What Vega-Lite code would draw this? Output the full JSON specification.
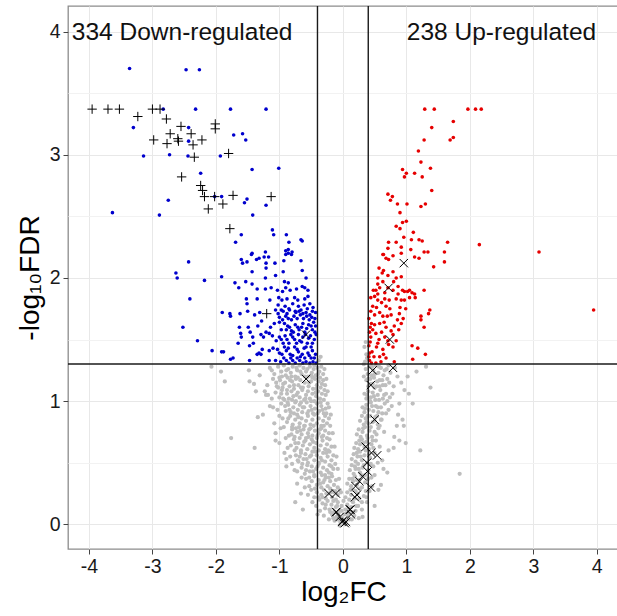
{
"$schema": "https://vega.github.io/schema/vega-lite/v6.json",
"width": 551,
"height": 543,
"padding": {"left": 68, "top": 6, "right": 0, "bottom": 67},
"autosize": {"type": "none"},
"config": {
"font": "Liberation Sans",
"view": {"stroke": "#8c8c8c", "strokeWidth": 1.3},
"axis": {"grid": true, "domain": false, "tickColor": "#444444", "tickSize": 5, "tickWidth": 1, "labelFontSize": 19.5, "labelColor": "#1a1a1a", "titleFontSize": 28, "titleFontWeight": "normal", "titleColor": "#000000", "labelPadding": 3, "labelOverlap": false, "labelFlush": false}
},
"datasets": {
"grey": [
{"x":-2.07,"y":1.28},{"x":-1.92,"y":1.24},{"x":-1.48,"y":1.25},{"x":-1.31,"y":1.21},{"x":-1.15,"y":1.27},{"x":-1.08,"y":1.22},{"x":-1.02,"y":1.28},{"x":-0.97,"y":1.24},{"x":-0.93,"y":1.29},{"x":-0.9,"y":1.21},{"x":-0.86,"y":1.26},{"x":-0.82,"y":1.23},{"x":-0.79,"y":1.28},{"x":-0.75,"y":1.2},{"x":-0.72,"y":1.25},{"x":-0.68,"y":1.29},{"x":-0.65,"y":1.22},{"x":-0.62,"y":1.27},{"x":-0.58,"y":1.24},{"x":-0.55,"y":1.2},{"x":-0.52,"y":1.28},{"x":-0.49,"y":1.23},{"x":-0.46,"y":1.26},{"x":-0.43,"y":1.21},{"x":-0.4,"y":1.27},{"x":-0.37,"y":1.24},{"x":-0.34,"y":1.28},{"x":-0.31,"y":1.22},{"x":0.36,"y":1.26},{"x":0.39,"y":1.22},{"x":0.42,"y":1.28},{"x":0.45,"y":1.21},{"x":0.48,"y":1.25},{"x":0.52,"y":1.29},{"x":0.56,"y":1.23},{"x":0.6,"y":1.27},{"x":0.64,"y":1.21},{"x":0.69,"y":1.26},{"x":0.75,"y":1.23},{"x":1.16,"y":1.24},{"x":1.31,"y":1.28},
{"x":0.35,"y":1.32},{"x":0.37,"y":1.38},{"x":0.34,"y":1.44},{"x":0.38,"y":1.35},{"x":0.36,"y":1.48},{"x":-0.38,"y":1.33},{"x":-0.35,"y":1.36},{"x":0.33,"y":1.3},
{"x":-1.86,"y":1.16},{"x":-1.47,"y":1.16},{"x":-1.4,"y":1.14},{"x":-1.19,"y":1.13},{"x":-1.1,"y":1.18},{"x":-1.04,"y":1.12},{"x":-0.99,"y":1.17},{"x":-0.95,"y":1.11},{"x":-0.91,"y":1.15},{"x":-0.87,"y":1.19},{"x":-0.84,"y":1.12},{"x":-0.8,"y":1.16},{"x":-0.77,"y":1.1},{"x":-0.74,"y":1.18},{"x":-0.7,"y":1.13},{"x":-0.67,"y":1.17},{"x":-0.63,"y":1.11},{"x":-0.6,"y":1.15},{"x":-0.57,"y":1.19},{"x":-0.54,"y":1.12},{"x":-0.5,"y":1.16},{"x":-0.47,"y":1.1},{"x":-0.44,"y":1.18},{"x":-0.41,"y":1.13},{"x":-0.38,"y":1.16},{"x":-0.35,"y":1.11},{"x":-0.31,"y":1.17},{"x":-0.28,"y":1.13},{"x":0.37,"y":1.17},{"x":0.4,"y":1.12},{"x":0.43,"y":1.18},{"x":0.47,"y":1.14},{"x":0.5,"y":1.11},{"x":0.54,"y":1.16},{"x":0.58,"y":1.12},{"x":0.62,"y":1.17},{"x":0.67,"y":1.13},{"x":0.73,"y":1.15},{"x":0.8,"y":1.12},{"x":1.38,"y":1.11},
{"x":-1.37,"y":1.08},{"x":-1.23,"y":1.08},{"x":-1.21,"y":1.05},{"x":-1.12,"y":1.02},{"x":-1.06,"y":1.07},{"x":-1.0,"y":1.03},{"x":-0.96,"y":1.09},{"x":-0.92,"y":1.01},{"x":-0.88,"y":1.06},{"x":-0.85,"y":1.02},{"x":-0.81,"y":1.08},{"x":-0.78,"y":1.04},{"x":-0.74,"y":1.0},{"x":-0.71,"y":1.07},{"x":-0.68,"y":1.03},{"x":-0.64,"y":1.09},{"x":-0.61,"y":1.01},{"x":-0.58,"y":1.05},{"x":-0.55,"y":1.08},{"x":-0.52,"y":1.02},{"x":-0.48,"y":1.06},{"x":-0.45,"y":1.0},{"x":-0.42,"y":1.04},{"x":-0.39,"y":1.08},{"x":-0.36,"y":1.02},{"x":-0.33,"y":1.06},{"x":-0.3,"y":1.01},{"x":-0.27,"y":1.05},{"x":0.34,"y":1.06},{"x":0.37,"y":1.02},{"x":0.4,"y":1.08},{"x":0.44,"y":1.03},{"x":0.47,"y":1.07},{"x":0.51,"y":1.01},{"x":0.55,"y":1.05},{"x":0.59,"y":1.09},{"x":0.63,"y":1.02},{"x":0.68,"y":1.06},{"x":0.74,"y":1.03},{"x":0.97,"y":1.09},{"x":1.04,"y":1.06},
{"x":-1.15,"y":0.96},{"x":-1.03,"y":0.93},{"x":-0.97,"y":0.98},{"x":-0.9,"y":0.92},{"x":-0.86,"y":0.97},{"x":-0.82,"y":0.91},{"x":-0.78,"y":0.95},{"x":-0.75,"y":0.99},{"x":-0.71,"y":0.93},{"x":-0.68,"y":0.97},{"x":-0.64,"y":0.91},{"x":-0.61,"y":0.95},{"x":-0.57,"y":0.99},{"x":-0.54,"y":0.92},{"x":-0.51,"y":0.96},{"x":-0.47,"y":0.9},{"x":-0.44,"y":0.94},{"x":-0.41,"y":0.98},{"x":-0.37,"y":0.92},{"x":-0.34,"y":0.96},{"x":-0.3,"y":0.9},{"x":-0.27,"y":0.94},{"x":-0.24,"y":0.98},{"x":0.31,"y":0.95},{"x":0.34,"y":0.91},{"x":0.37,"y":0.97},{"x":0.41,"y":0.93},{"x":0.44,"y":0.99},{"x":0.48,"y":0.92},{"x":0.52,"y":0.96},{"x":0.56,"y":0.91},{"x":0.6,"y":0.95},{"x":0.66,"y":0.98},{"x":0.72,"y":0.93},{"x":0.89,"y":0.98},
{"x":-1.34,"y":0.87},{"x":-1.26,"y":0.89},{"x":-1.08,"y":0.82},{"x":-0.95,"y":0.86},{"x":-0.88,"y":0.83},{"x":-0.83,"y":0.88},{"x":-0.79,"y":0.81},{"x":-0.75,"y":0.85},{"x":-0.72,"y":0.89},{"x":-0.68,"y":0.82},{"x":-0.65,"y":0.86},{"x":-0.61,"y":0.8},{"x":-0.58,"y":0.84},{"x":-0.55,"y":0.88},{"x":-0.51,"y":0.81},{"x":-0.48,"y":0.85},{"x":-0.45,"y":0.89},{"x":-0.41,"y":0.82},{"x":-0.38,"y":0.86},{"x":-0.34,"y":0.8},{"x":-0.31,"y":0.84},{"x":-0.28,"y":0.88},{"x":-0.25,"y":0.82},{"x":-0.22,"y":0.86},{"x":0.27,"y":0.84},{"x":0.3,"y":0.88},{"x":0.33,"y":0.81},{"x":0.36,"y":0.86},{"x":0.4,"y":0.82},{"x":0.43,"y":0.88},{"x":0.47,"y":0.83},{"x":0.51,"y":0.87},{"x":0.55,"y":0.81},{"x":0.6,"y":0.85},{"x":0.87,"y":0.89},{"x":0.94,"y":0.85},{"x":0.96,"y":0.8},
{"x":-1.76,"y":0.7},{"x":-1.06,"y":0.74},{"x":-0.98,"y":0.78},{"x":-0.85,"y":0.72},{"x":-0.8,"y":0.77},{"x":-0.76,"y":0.71},{"x":-0.72,"y":0.75},{"x":-0.69,"y":0.79},{"x":-0.65,"y":0.73},{"x":-0.62,"y":0.77},{"x":-0.58,"y":0.7},{"x":-0.55,"y":0.74},{"x":-0.51,"y":0.78},{"x":-0.48,"y":0.72},{"x":-0.44,"y":0.76},{"x":-0.41,"y":0.7},{"x":-0.38,"y":0.74},{"x":-0.34,"y":0.78},{"x":-0.31,"y":0.72},{"x":-0.28,"y":0.76},{"x":-0.25,"y":0.7},{"x":-0.22,"y":0.74},{"x":0.22,"y":0.73},{"x":0.25,"y":0.77},{"x":0.28,"y":0.71},{"x":0.31,"y":0.75},{"x":0.35,"y":0.79},{"x":0.38,"y":0.72},{"x":0.42,"y":0.76},{"x":0.46,"y":0.71},{"x":0.5,"y":0.75},{"x":0.56,"y":0.78},{"x":0.81,"y":0.71},
{"x":-1.39,"y":0.62},{"x":-1.06,"y":0.68},{"x":-1.0,"y":0.66},{"x":-0.82,"y":0.64},{"x":-0.77,"y":0.69},{"x":-0.73,"y":0.62},{"x":-0.7,"y":0.66},{"x":-0.66,"y":0.6},{"x":-0.63,"y":0.64},{"x":-0.59,"y":0.68},{"x":-0.56,"y":0.61},{"x":-0.52,"y":0.65},{"x":-0.49,"y":0.69},{"x":-0.45,"y":0.62},{"x":-0.42,"y":0.66},{"x":-0.38,"y":0.6},{"x":-0.35,"y":0.64},{"x":-0.32,"y":0.68},{"x":-0.28,"y":0.61},{"x":-0.25,"y":0.65},{"x":-0.21,"y":0.69},{"x":-0.18,"y":0.63},{"x":0.18,"y":0.62},{"x":0.21,"y":0.66},{"x":0.24,"y":0.61},{"x":0.27,"y":0.65},{"x":0.3,"y":0.69},{"x":0.34,"y":0.63},{"x":0.37,"y":0.67},{"x":0.41,"y":0.61},{"x":0.45,"y":0.65},{"x":0.52,"y":0.68},{"x":0.89,"y":0.68},{"x":0.99,"y":0.66},{"x":0.8,"y":0.62},
{"x":-0.92,"y":0.58},{"x":-0.89,"y":0.53},{"x":-0.74,"y":0.56},{"x":-0.7,"y":0.51},{"x":-0.66,"y":0.58},{"x":-0.62,"y":0.53},{"x":-0.59,"y":0.57},{"x":-0.55,"y":0.5},{"x":-0.52,"y":0.55},{"x":-0.48,"y":0.59},{"x":-0.45,"y":0.52},{"x":-0.41,"y":0.56},{"x":-0.38,"y":0.5},{"x":-0.35,"y":0.54},{"x":-0.31,"y":0.58},{"x":-0.28,"y":0.51},{"x":-0.24,"y":0.55},{"x":-0.21,"y":0.59},{"x":-0.18,"y":0.52},{"x":-0.15,"y":0.56},{"x":0.14,"y":0.53},{"x":0.17,"y":0.57},{"x":0.2,"y":0.51},{"x":0.23,"y":0.55},{"x":0.27,"y":0.59},{"x":0.3,"y":0.52},{"x":0.34,"y":0.56},{"x":0.38,"y":0.5},{"x":0.43,"y":0.54},{"x":0.5,"y":0.58},{"x":0.62,"y":0.52},
{"x":-0.89,"y":0.47},{"x":-0.76,"y":0.44},{"x":-0.65,"y":0.46},{"x":-0.6,"y":0.41},{"x":-0.56,"y":0.48},{"x":-0.52,"y":0.43},{"x":-0.49,"y":0.47},{"x":-0.45,"y":0.4},{"x":-0.42,"y":0.45},{"x":-0.38,"y":0.49},{"x":-0.35,"y":0.42},{"x":-0.31,"y":0.46},{"x":-0.28,"y":0.4},{"x":-0.25,"y":0.44},{"x":-0.21,"y":0.48},{"x":-0.18,"y":0.41},{"x":-0.15,"y":0.45},{"x":-0.12,"y":0.49},{"x":0.11,"y":0.44},{"x":0.14,"y":0.48},{"x":0.17,"y":0.41},{"x":0.2,"y":0.45},{"x":0.24,"y":0.49},{"x":0.27,"y":0.42},{"x":0.31,"y":0.46},{"x":0.35,"y":0.4},{"x":0.4,"y":0.44},{"x":0.48,"y":0.47},{"x":1.84,"y":0.41},{"x":0.7,"y":0.42},
{"x":-0.72,"y":0.33},{"x":-0.58,"y":0.37},{"x":-0.53,"y":0.31},{"x":-0.49,"y":0.35},{"x":-0.45,"y":0.39},{"x":-0.41,"y":0.32},{"x":-0.38,"y":0.36},{"x":-0.34,"y":0.3},{"x":-0.31,"y":0.34},{"x":-0.27,"y":0.38},{"x":-0.24,"y":0.31},{"x":-0.2,"y":0.35},{"x":-0.17,"y":0.39},{"x":-0.14,"y":0.32},{"x":-0.11,"y":0.36},{"x":-0.08,"y":0.3},{"x":0.07,"y":0.33},{"x":0.1,"y":0.37},{"x":0.13,"y":0.31},{"x":0.16,"y":0.35},{"x":0.19,"y":0.39},{"x":0.22,"y":0.32},{"x":0.26,"y":0.36},{"x":0.3,"y":0.3},{"x":0.35,"y":0.34},{"x":0.45,"y":0.38},{"x":0.6,"y":0.32},
{"x":-0.66,"y":0.25},{"x":-0.5,"y":0.28},{"x":-0.45,"y":0.22},{"x":-0.41,"y":0.26},{"x":-0.37,"y":0.2},{"x":-0.34,"y":0.24},{"x":-0.3,"y":0.28},{"x":-0.27,"y":0.21},{"x":-0.23,"y":0.25},{"x":-0.2,"y":0.29},{"x":-0.17,"y":0.22},{"x":-0.14,"y":0.26},{"x":-0.11,"y":0.2},{"x":-0.08,"y":0.24},{"x":-0.05,"y":0.28},{"x":0.04,"y":0.22},{"x":0.07,"y":0.26},{"x":0.1,"y":0.2},{"x":0.13,"y":0.24},{"x":0.16,"y":0.28},{"x":0.19,"y":0.21},{"x":0.23,"y":0.25},{"x":0.27,"y":0.29},{"x":0.33,"y":0.23},{"x":0.42,"y":0.27},
{"x":-0.75,"y":0.18},{"x":-0.63,"y":0.12},{"x":-0.42,"y":0.15},{"x":-0.36,"y":0.11},{"x":-0.32,"y":0.17},{"x":-0.28,"y":0.13},{"x":-0.24,"y":0.19},{"x":-0.21,"y":0.12},{"x":-0.18,"y":0.16},{"x":-0.14,"y":0.1},{"x":-0.11,"y":0.14},{"x":-0.08,"y":0.18},{"x":-0.05,"y":0.11},{"x":-0.02,"y":0.15},{"x":0.01,"y":0.19},{"x":0.04,"y":0.12},{"x":0.07,"y":0.16},{"x":0.1,"y":0.1},{"x":0.13,"y":0.14},{"x":0.16,"y":0.18},{"x":0.2,"y":0.11},{"x":0.24,"y":0.15},{"x":0.3,"y":0.12},{"x":0.5,"y":0.15},{"x":0.38,"y":0.18},
{"x":-0.3,"y":0.07},{"x":-0.22,"y":0.04},{"x":-0.17,"y":0.08},{"x":-0.13,"y":0.03},{"x":-0.1,"y":0.06},{"x":-0.07,"y":0.09},{"x":-0.04,"y":0.02},{"x":-0.01,"y":0.05},{"x":0.02,"y":0.08},{"x":0.05,"y":0.03},{"x":0.08,"y":0.06},{"x":0.11,"y":0.09},{"x":0.14,"y":0.04},{"x":0.18,"y":0.07},{"x":0.25,"y":0.05},{"x":-0.05,"y":-0.01},{"x":0.03,"y":0.0},{"x":0.0,"y":0.02},
{"x":-1.0,"y":1.19},{"x":-0.94,"y":1.14},{"x":-0.88,"y":1.09},{"x":-0.83,"y":1.17},{"x":-0.77,"y":1.13},{"x":-0.71,"y":1.19},{"x":-0.66,"y":1.11},{"x":-0.6,"y":1.2},{"x":-0.53,"y":1.15},{"x":-0.48,"y":1.19},{"x":-0.42,"y":1.1},{"x":-0.36,"y":1.19},{"x":-0.29,"y":1.26},{"x":-0.26,"y":1.18},{"x":-0.94,"y":1.02},{"x":-0.87,"y":0.99},{"x":-0.8,"y":1.01},{"x":-0.73,"y":1.05},{"x":-0.66,"y":0.99},{"x":-0.59,"y":1.02},{"x":-0.5,"y":1.0},{"x":-0.43,"y":1.07},{"x":-0.35,"y":0.99},{"x":-0.29,"y":1.09},{"x":-0.84,"y":0.93},{"x":-0.77,"y":0.9},{"x":-0.7,"y":0.87},{"x":-0.63,"y":0.95},{"x":-0.56,"y":0.9},{"x":-0.49,"y":0.93},{"x":-0.4,"y":0.9},{"x":-0.32,"y":0.93},{"x":-0.26,"y":0.9},{"x":-0.8,"y":0.79},{"x":-0.74,"y":0.78},{"x":-0.67,"y":0.76},{"x":-0.6,"y":0.8},{"x":-0.53,"y":0.77},{"x":-0.46,"y":0.8},{"x":-0.36,"y":0.77},{"x":-0.3,"y":0.8},{"x":-0.2,"y":0.8},{"x":-0.75,"y":0.66},{"x":-0.68,"y":0.7},{"x":-0.61,"y":0.67},{"x":-0.54,"y":0.71},{"x":-0.47,"y":0.67},{"x":-0.4,"y":0.72},{"x":-0.33,"y":0.71},{"x":-0.23,"y":0.6},{"x":-0.68,"y":0.55},{"x":-0.57,"y":0.53},{"x":-0.5,"y":0.56},{"x":-0.43,"y":0.59},{"x":-0.33,"y":0.52},{"x":-0.26,"y":0.58},{"x":-0.18,"y":0.47},{"x":-0.47,"y":0.43},{"x":-0.4,"y":0.47},{"x":-0.33,"y":0.4},{"x":-0.22,"y":0.42},{"x":-0.29,"y":0.36},{"x":-0.36,"y":0.33},{"x":-0.22,"y":0.38},{"x":-0.12,"y":0.27},{"x":-0.19,"y":0.26},{"x":-0.26,"y":0.25},{"x":-0.32,"y":0.22},{"x":-0.15,"y":0.19},{"x":-0.09,"y":0.15},{"x":0.06,"y":0.09},{"x":0.09,"y":0.13},{"x":-0.02,"y":0.11},
{"x":0.4,"y":1.18},{"x":0.44,"y":1.14},{"x":0.49,"y":1.19},{"x":0.53,"y":1.12},{"x":0.58,"y":1.17},{"x":0.63,"y":1.13},{"x":0.7,"y":1.18},{"x":0.38,"y":1.05},{"x":0.43,"y":1.0},{"x":0.49,"y":1.04},{"x":0.57,"y":1.01},{"x":0.65,"y":1.05},{"x":0.35,"y":0.94},{"x":0.39,"y":0.88},{"x":0.46,"y":0.96},{"x":0.54,"y":0.88},{"x":0.62,"y":0.9},{"x":0.32,"y":0.78},{"x":0.37,"y":0.83},{"x":0.44,"y":0.79},{"x":0.5,"y":0.84},{"x":0.58,"y":0.8},{"x":0.26,"y":0.68},{"x":0.32,"y":0.66},{"x":0.39,"y":0.7},{"x":0.47,"y":0.68},{"x":0.22,"y":0.58},{"x":0.28,"y":0.55},{"x":0.36,"y":0.6},{"x":0.41,"y":0.57},{"x":0.19,"y":0.47},{"x":0.25,"y":0.45},{"x":0.33,"y":0.48},{"x":0.15,"y":0.37},{"x":0.22,"y":0.36},{"x":0.29,"y":0.4},{"x":0.12,"y":0.28},{"x":0.2,"y":0.27},{"x":0.26,"y":0.21},
{"x":-1.12,"y":1.25},{"x":-1.05,"y":1.15},{"x":-1.18,"y":1.05},{"x":-1.1,"y":0.95},{"x":-1.0,"y":0.88},{"x":-0.93,"y":0.79},{"x":-0.9,"y":0.7},{"x":-0.87,"y":0.62},{"x":-0.83,"y":0.55},{"x":-0.8,"y":0.49},{"x":-0.72,"y":0.43},{"x":-0.65,"y":0.38},{"x":-0.6,"y":0.3},{"x":-0.55,"y":0.24},{"x":-0.48,"y":0.18},{"x":-0.4,"y":0.08},{"x":-0.96,"y":1.2},{"x":-0.89,"y":1.25},{"x":-0.81,"y":1.2},{"x":-0.73,"y":1.27},{"x":-0.67,"y":1.24},{"x":-0.56,"y":1.26},{"x":-0.5,"y":1.21},{"x":-0.45,"y":1.29},{"x":-0.39,"y":1.22},{"x":-0.33,"y":1.14},{"x":-0.24,"y":1.08},{"x":-0.22,"y":0.95},{"x":-0.19,"y":0.89},{"x":-0.16,"y":0.74},{"x":-0.13,"y":0.63},{"x":-0.1,"y":0.55},{"x":-0.08,"y":0.45},{"x":-0.06,"y":0.37},{"x":-0.03,"y":0.26},{"x":-1.02,"y":1.11},{"x":-0.97,"y":1.06},{"x":-0.91,"y":0.96},{"x":-0.86,"y":0.86},{"x":-0.81,"y":0.73},{"x":-0.76,"y":0.6},{"x":-0.71,"y":0.52},{"x":-0.64,"y":0.49},{"x":-0.58,"y":0.44},{"x":-0.53,"y":0.38},{"x":-0.44,"y":0.29},{"x":-0.39,"y":0.22},{"x":-0.27,"y":0.16},{"x":-0.2,"y":0.1},{"x":-0.15,"y":0.05},{"x":-0.08,"y":0.04},
{"x":0.33,"y":1.2},{"x":0.46,"y":1.28},{"x":0.5,"y":1.22},{"x":0.57,"y":1.28},{"x":0.66,"y":1.25},{"x":0.72,"y":1.29},{"x":0.82,"y":1.27},{"x":0.86,"y":1.2},{"x":0.78,"y":1.06},{"x":0.7,"y":1.0},{"x":0.61,"y":0.85},{"x":0.55,"y":0.95},{"x":0.53,"y":0.73},{"x":0.48,"y":0.62},{"x":0.44,"y":0.49},{"x":0.4,"y":0.37},{"x":0.36,"y":0.27},{"x":0.3,"y":0.18},{"x":0.21,"y":0.15},{"x":0.16,"y":0.1},{"x":0.1,"y":0.04},{"x":0.68,"y":0.9},{"x":0.65,"y":0.75},{"x":0.58,"y":0.63},{"x":0.55,"y":0.5},{"x":0.5,"y":0.4},{"x":0.46,"y":0.31},{"x":0.37,"y":0.22},{"x":0.31,"y":0.06},{"x":0.92,"y":1.15},{"x":1.02,"y":1.2},{"x":0.77,"y":0.96},{"x":0.85,"y":0.8},{"x":0.72,"y":0.6},{"x":0.64,"y":0.45},{"x":0.56,"y":0.28},{"x":1.1,"y":0.98},{"x":1.22,"y":0.6}
],
"down": [
{"x":-3.36,"y":3.7},{"x":-2.47,"y":3.69},{"x":-2.26,"y":3.69},{"x":-2.83,"y":3.37},{"x":-2.32,"y":3.37},{"x":-1.77,"y":3.37},{"x":-1.21,"y":3.37},{"x":-3.3,"y":3.22},{"x":-2.43,"y":3.22},{"x":-1.72,"y":3.16},{"x":-1.58,"y":3.17},{"x":-1.53,"y":3.12},{"x":-3.14,"y":2.99},{"x":-2.73,"y":3.0},{"x":-2.44,"y":2.99},{"x":-1.93,"y":2.99},{"x":-2.43,"y":3.11},{"x":-1.43,"y":2.88},{"x":-1.01,"y":2.89},{"x":-2.24,"y":2.85},{"x":-2.75,"y":2.63},{"x":-3.63,"y":2.53},{"x":-2.89,"y":2.51},{"x":-2.02,"y":2.66},{"x":-1.91,"y":2.66},{"x":-1.51,"y":2.64},{"x":-1.55,"y":2.61},{"x":-1.21,"y":2.59},{"x":-1.42,"y":2.51},{"x":-1.11,"y":2.39},{"x":-1.09,"y":2.35},{"x":-0.89,"y":2.35},{"x":-0.85,"y":2.29},{"x":-1.6,"y":2.35},{"x":-1.69,"y":2.29},{"x":-0.66,"y":2.31},{"x":-0.64,"y":2.3},{"x":-0.9,"y":2.19},{"x":-0.86,"y":2.2},{"x":-0.81,"y":2.19},
{"x":-2.43,"y":2.13},{"x":-2.63,"y":2.04},{"x":-2.61,"y":2.0},{"x":-2.18,"y":1.98},{"x":-1.91,"y":2.01},{"x":-2.41,"y":1.83},{"x":-2.52,"y":1.6},{"x":-2.29,"y":1.49},{"x":-2.06,"y":1.41},{"x":-1.91,"y":1.4},{"x":-1.88,"y":1.4},{"x":-1.77,"y":1.34},
{"x":-1.6,"y":2.15},{"x":-1.58,"y":2.12},{"x":-1.51,"y":2.13},{"x":-1.44,"y":2.19},{"x":-1.43,"y":2.2},{"x":-1.36,"y":2.15},{"x":-1.32,"y":2.16},{"x":-1.24,"y":2.17},{"x":-1.22,"y":2.21},{"x":-1.17,"y":2.17},{"x":-1.21,"y":2.12},{"x":-1.07,"y":2.12},{"x":-0.93,"y":2.14},{"x":-0.9,"y":2.22},{"x":-0.86,"y":2.23},{"x":-0.8,"y":2.21},{"x":-0.66,"y":2.14},
{"x":-1.43,"y":2.05},{"x":-1.21,"y":2.08},{"x":-1.22,"y":2.0},{"x":-1.06,"y":2.02},{"x":-0.94,"y":2.05},{"x":-0.92,"y":1.97},{"x":-0.86,"y":1.96},{"x":-0.64,"y":2.06},{"x":-0.58,"y":2.0},
{"x":-1.7,"y":1.96},{"x":-1.64,"y":1.92},{"x":-1.53,"y":1.97},{"x":-1.43,"y":1.95},{"x":-1.35,"y":1.91},
{"x":-1.22,"y":1.91},{"x":-1.13,"y":1.92},{"x":-1.03,"y":1.9},{"x":-0.95,"y":1.89},{"x":-0.9,"y":1.92},{"x":-0.83,"y":1.9},{"x":-0.73,"y":1.91},{"x":-0.64,"y":1.93},{"x":-0.6,"y":1.92},{"x":-0.55,"y":1.9},
{"x":-1.52,"y":1.83},{"x":-1.51,"y":1.79},{"x":-1.35,"y":1.83},{"x":-1.15,"y":1.82},{"x":-1.01,"y":1.84},{"x":-0.96,"y":1.82},{"x":-0.88,"y":1.83},{"x":-0.76,"y":1.84},{"x":-0.71,"y":1.82},{"x":-0.6,"y":1.83},{"x":-0.55,"y":1.85},
{"x":-1.62,"y":1.71},{"x":-1.5,"y":1.73},{"x":-1.39,"y":1.7},{"x":-1.31,"y":1.72},{"x":-1.06,"y":1.74},{"x":-1.02,"y":1.71},{"x":-0.94,"y":1.73},{"x":-0.88,"y":1.71},{"x":-0.84,"y":1.74},{"x":-0.74,"y":1.72},{"x":-0.69,"y":1.73},{"x":-0.63,"y":1.71},{"x":-0.58,"y":1.72},{"x":-0.52,"y":1.7},{"x":-0.48,"y":1.73},{"x":-1.9,"y":1.72},{"x":-1.78,"y":1.71},{"x":-1.77,"y":1.69},
{"x":-1.63,"y":1.6},{"x":-1.49,"y":1.6},{"x":-1.46,"y":1.56},{"x":-1.34,"y":1.61},{"x":-1.28,"y":1.65},{"x":-1.21,"y":1.56},{"x":-1.14,"y":1.6},{"x":-1.08,"y":1.63},{"x":-1.0,"y":1.64},{"x":-0.92,"y":1.63},{"x":-0.89,"y":1.58},{"x":-0.84,"y":1.6},{"x":-0.78,"y":1.56},{"x":-0.71,"y":1.6},{"x":-0.63,"y":1.63},{"x":-0.57,"y":1.59},{"x":-0.5,"y":1.61},{"x":-0.46,"y":1.64},{"x":-0.44,"y":1.56},
{"x":-1.61,"y":1.55},{"x":-1.6,"y":1.52},{"x":-1.42,"y":1.52},{"x":-1.29,"y":1.54},{"x":-1.25,"y":1.52},{"x":-1.16,"y":1.55},{"x":-1.11,"y":1.53},{"x":-1.0,"y":1.52},{"x":-0.94,"y":1.47},{"x":-0.88,"y":1.5},{"x":-0.82,"y":1.54},{"x":-0.76,"y":1.5},{"x":-0.68,"y":1.49},{"x":-0.63,"y":1.52},{"x":-0.54,"y":1.51},{"x":-0.48,"y":1.47},
{"x":-1.65,"y":1.47},{"x":-1.47,"y":1.45},{"x":-1.41,"y":1.47},{"x":-1.32,"y":1.39},{"x":-1.27,"y":1.42},{"x":-1.16,"y":1.41},{"x":-1.1,"y":1.43},{"x":-1.0,"y":1.39},{"x":-0.92,"y":1.44},{"x":-0.86,"y":1.43},{"x":-0.79,"y":1.37},{"x":-0.72,"y":1.42},{"x":-0.67,"y":1.36},{"x":-0.61,"y":1.43},{"x":-0.55,"y":1.39},{"x":-0.5,"y":1.44},{"x":-0.45,"y":1.35},
{"x":-1.73,"y":1.35},{"x":-1.47,"y":1.33},{"x":-1.35,"y":1.38},{"x":-1.29,"y":1.38},{"x":-1.16,"y":1.33},{"x":-1.06,"y":1.33},{"x":-0.89,"y":1.33},{"x":-0.79,"y":1.33},{"x":-0.68,"y":1.33},{"x":-0.58,"y":1.32},{"x":-0.47,"y":1.32},
{"x":-1.02,"y":1.78},{"x":-0.97,"y":1.74},{"x":-0.91,"y":1.77},{"x":-0.85,"y":1.75},{"x":-0.79,"y":1.79},{"x":-0.75,"y":1.73},{"x":-0.7,"y":1.77},{"x":-0.66,"y":1.74},{"x":-0.61,"y":1.78},{"x":-0.56,"y":1.75},{"x":-0.52,"y":1.79},{"x":-0.47,"y":1.76},{"x":-0.43,"y":1.72},
{"x":-1.0,"y":1.68},{"x":-0.95,"y":1.66},{"x":-0.9,"y":1.69},{"x":-0.86,"y":1.67},{"x":-0.81,"y":1.66},{"x":-0.77,"y":1.69},{"x":-0.72,"y":1.67},{"x":-0.67,"y":1.7},{"x":-0.62,"y":1.67},{"x":-0.57,"y":1.69},{"x":-0.53,"y":1.66},{"x":-0.49,"y":1.68},{"x":-0.44,"y":1.67},
{"x":-0.97,"y":1.58},{"x":-0.87,"y":1.61},{"x":-0.81,"y":1.57},{"x":-0.75,"y":1.62},{"x":-0.69,"y":1.58},{"x":-0.65,"y":1.6},{"x":-0.6,"y":1.56},{"x":-0.54,"y":1.62},{"x":-0.48,"y":1.58},{"x":-0.43,"y":1.61},
{"x":-1.05,"y":1.49},{"x":-0.97,"y":1.5},{"x":-0.91,"y":1.53},{"x":-0.85,"y":1.47},{"x":-0.79,"y":1.52},{"x":-0.73,"y":1.47},{"x":-0.7,"y":1.54},{"x":-0.65,"y":1.48},{"x":-0.59,"y":1.54},{"x":-0.56,"y":1.47},{"x":-0.51,"y":1.53},{"x":-0.45,"y":1.5},{"x":-0.42,"y":1.54},
{"x":-1.03,"y":1.42},{"x":-0.96,"y":1.38},{"x":-0.89,"y":1.41},{"x":-0.83,"y":1.38},{"x":-0.76,"y":1.44},{"x":-0.7,"y":1.4},{"x":-0.64,"y":1.38},{"x":-0.58,"y":1.44},{"x":-0.53,"y":1.37},{"x":-0.48,"y":1.41},{"x":-0.43,"y":1.38},
{"x":-0.98,"y":1.32},{"x":-0.93,"y":1.35},{"x":-0.85,"y":1.31},{"x":-0.82,"y":1.35},{"x":-0.75,"y":1.31},{"x":-0.72,"y":1.35},{"x":-0.63,"y":1.31},{"x":-0.6,"y":1.35},{"x":-0.52,"y":1.31},{"x":-0.5,"y":1.35},{"x":-0.42,"y":1.31}
],
"up": [
{"x":1.29,"y":3.37},{"x":1.44,"y":3.37},{"x":1.97,"y":3.37},{"x":2.09,"y":3.37},{"x":2.18,"y":3.37},{"x":1.4,"y":3.22},{"x":1.74,"y":3.27},{"x":1.28,"y":3.12},{"x":1.69,"y":3.12},{"x":1.74,"y":3.14},{"x":1.19,"y":3.03},{"x":1.23,"y":2.94},{"x":1.38,"y":2.89},{"x":0.94,"y":2.88},{"x":1.0,"y":2.85},{"x":0.97,"y":2.82},{"x":1.13,"y":2.85},{"x":1.25,"y":2.82},{"x":1.4,"y":2.71},{"x":0.71,"y":2.68},{"x":0.78,"y":2.66},{"x":0.75,"y":2.63},{"x":0.86,"y":2.6},{"x":1.01,"y":2.6},{"x":1.23,"y":2.58},{"x":1.3,"y":2.6},{"x":0.9,"y":2.53},{"x":0.94,"y":2.45},{"x":1.0,"y":2.46},{"x":0.84,"y":2.42},{"x":0.9,"y":2.4},{"x":1.11,"y":2.37},{"x":0.96,"y":2.33},{"x":1.2,"y":2.31},{"x":0.72,"y":2.29},{"x":0.84,"y":2.29},{"x":0.71,"y":2.24},{"x":0.92,"y":2.25},{"x":1.08,"y":2.31},{"x":1.25,"y":2.3},{"x":1.65,"y":2.29},{"x":2.15,"y":2.27},{"x":3.09,"y":2.21},{"x":0.64,"y":2.19},{"x":0.72,"y":2.15},{"x":0.79,"y":2.18},{"x":0.92,"y":2.2},{"x":1.07,"y":2.23},{"x":1.13,"y":2.17},{"x":1.2,"y":2.16},{"x":1.28,"y":2.21},{"x":1.34,"y":2.21},{"x":1.43,"y":2.09},{"x":1.6,"y":2.21},{"x":1.6,"y":2.13},{"x":3.95,"y":1.74},
{"x":0.57,"y":2.08},{"x":0.64,"y":2.06},{"x":0.71,"y":2.02},{"x":0.79,"y":2.05},{"x":0.84,"y":2.0},{"x":0.92,"y":2.01},{"x":0.63,"y":1.97},{"x":0.8,"y":1.97},{"x":0.58,"y":1.92},{"x":0.48,"y":1.9},{"x":0.55,"y":1.87},{"x":0.66,"y":1.88},{"x":0.87,"y":1.87},{"x":0.97,"y":1.89},{"x":1.05,"y":1.9},{"x":1.13,"y":1.87},{"x":1.28,"y":1.9},{"x":1.37,"y":1.74},{"x":1.23,"y":1.69},{"x":1.28,"y":1.6},{"x":1.09,"y":1.45},{"x":1.18,"y":1.43},{"x":1.3,"y":1.38},{"x":1.1,"y":1.34},{"x":0.81,"y":1.32},
{"x":0.47,"y":1.77},{"x":0.55,"y":1.82},{"x":0.66,"y":1.83},{"x":0.73,"y":1.82},{"x":0.84,"y":1.83},{"x":0.92,"y":1.82},{"x":0.99,"y":1.75},{"x":0.89,"y":1.71},{"x":0.76,"y":1.7},{"x":0.63,"y":1.69},{"x":0.5,"y":1.7},{"x":0.45,"y":1.63},{"x":0.58,"y":1.63},{"x":0.68,"y":1.6},{"x":0.81,"y":1.61},{"x":0.92,"y":1.63},{"x":1.23,"y":1.66},{"x":0.42,"y":1.56},{"x":0.52,"y":1.55},{"x":0.66,"y":1.52},{"x":0.79,"y":1.54},{"x":0.43,"y":1.48},{"x":0.55,"y":1.47},{"x":0.63,"y":1.42},{"x":0.46,"y":1.4},{"x":0.58,"y":1.36},{"x":0.42,"y":1.33},{"x":0.68,"y":1.35},{"x":0.52,"y":1.31},{"x":0.79,"y":1.44},
{"x":0.63,"y":2.19},{"x":0.68,"y":2.16},{"x":0.62,"y":2.04},{"x":0.55,"y":2.0},{"x":0.52,"y":1.9},{"x":0.5,"y":1.85},{"x":0.71,"y":1.92},{"x":0.79,"y":1.9},{"x":0.87,"y":1.93},{"x":0.94,"y":1.9},{"x":1.02,"y":1.89},{"x":1.09,"y":1.88},{"x":1.14,"y":1.84},{"x":1.05,"y":1.84},{"x":0.97,"y":1.82},{"x":1.35,"y":1.71},
{"x":0.41,"y":1.45},{"x":0.44,"y":1.52},{"x":0.47,"y":1.58},{"x":0.41,"y":1.67},{"x":0.44,"y":1.73},{"x":0.49,"y":1.36},{"x":0.53,"y":1.44},{"x":0.57,"y":1.5},{"x":0.61,"y":1.56},{"x":0.65,"y":1.64},{"x":0.7,"y":1.69},{"x":0.74,"y":1.75},{"x":0.6,"y":1.32},{"x":0.64,"y":1.38},{"x":0.72,"y":1.46},{"x":0.76,"y":1.57},{"x":0.86,"y":1.66},{"x":0.9,"y":1.76},{"x":0.42,"y":1.39},{"x":0.45,"y":1.31},{"x":0.5,"y":1.62},{"x":0.53,"y":1.76},{"x":0.58,"y":1.72},{"x":0.61,"y":1.8},{"x":0.68,"y":1.77},{"x":0.71,"y":1.49},{"x":0.84,"y":1.49},{"x":0.88,"y":1.58},{"x":0.95,"y":1.67},{"x":0.55,"y":1.95},{"x":0.44,"y":1.84},{"x":0.41,"y":1.36},{"x":0.43,"y":1.6}
],
"cross": [
{"x":-0.58,"y":1.18},{"x":0.47,"y":1.25},{"x":0.79,"y":1.27},{"x":0.44,"y":1.13},{"x":0.5,"y":0.85},{"x":0.36,"y":0.63},{"x":0.45,"y":0.58},{"x":0.54,"y":0.56},{"x":0.38,"y":0.5},{"x":0.39,"y":0.43},{"x":0.44,"y":0.3},{"x":0.31,"y":0.39},{"x":0.26,"y":0.35},{"x":0.2,"y":0.31},{"x":0.22,"y":0.24},{"x":0.19,"y":0.22},{"x":-0.22,"y":0.25},{"x":-0.11,"y":0.25},{"x":-0.11,"y":0.1},{"x":-0.05,"y":0.06},{"x":0.0,"y":0.03},{"x":0.05,"y":0.02},{"x":0.11,"y":0.12},{"x":0.13,"y":0.08},{"x":0.03,"y":0.01},{"x":-0.01,"y":0.02},{"x":-0.1,"y":0.1},{"x":0.12,"y":0.12},{"x":0.96,"y":2.12},{"x":0.72,"y":1.92},{"x":0.74,"y":1.5},{"x":-0.58,"y":1.54}
],
"plus": [
{"x":-3.95,"y":3.37},{"x":-3.7,"y":3.37},{"x":-3.52,"y":3.37},{"x":-3.0,"y":3.37},{"x":-2.88,"y":3.37},{"x":-3.23,"y":3.31},{"x":-2.78,"y":3.29},{"x":-2.55,"y":3.23},{"x":-2.01,"y":3.25},{"x":-2.01,"y":3.21},{"x":-2.72,"y":3.17},{"x":-2.39,"y":3.17},{"x":-2.98,"y":3.12},{"x":-2.6,"y":3.13},{"x":-2.59,"y":3.11},{"x":-2.22,"y":3.12},{"x":-2.77,"y":3.09},{"x":-2.36,"y":3.08},{"x":-2.34,"y":2.98},{"x":-1.8,"y":3.01},{"x":-2.54,"y":2.82},{"x":-2.24,"y":2.75},{"x":-2.21,"y":2.71},{"x":-2.18,"y":2.66},{"x":-2.02,"y":2.66},{"x":-1.73,"y":2.67},{"x":-1.89,"y":2.6},{"x":-2.12,"y":2.56},{"x":-1.13,"y":2.66},{"x":-1.78,"y":2.4},{"x":-1.2,"y":1.71}
]
},
"layer": [
{
"data": {"name": "grey"},
"mark": {"type": "circle", "size": 18, "opacity": 1, "color": "#BEBEBE"},
"encoding": {
"x": {"field": "x", "type": "quantitative", "title": "log₂FC",
"scale": {"domain": [-4.33, 4.35], "nice": false, "zero": false},
"axis": {"values": [-4,-3.5,-3,-2.5,-2,-1.5,-1,-0.5,0,0.5,1,1.5,2,2.5,3,3.5,4],
"labelExpr": "datum.value % 1 === 0 ? '' + datum.value : ''",
"gridColor": {"condition": {"test": "datum.value % 1 !== 0", "value": "#F2F2F2"}, "value": "#E8E8E8"},
"tickOpacity": {"condition": {"test": "datum.value % 1 !== 0", "value": 0}, "value": 1},
"titlePadding": 3}},
"y": {"field": "y", "type": "quantitative", "title": "-log₁₀FDR",
"scale": {"domain": [-0.2, 4.207], "nice": false, "zero": false},
"axis": {"values": [0,0.5,1,1.5,2,2.5,3,3.5,4],
"labelExpr": "datum.value % 1 === 0 ? '' + datum.value : ''",
"gridColor": {"condition": {"test": "datum.value % 1 !== 0", "value": "#F2F2F2"}, "value": "#E8E8E8"},
"tickOpacity": {"condition": {"test": "datum.value % 1 !== 0", "value": 0}, "value": 1},
"titlePadding": 5}}
}
},
{
"data": {"name": "down"},
"mark": {"type": "circle", "size": 13, "opacity": 1, "color": "#0000CD"},
"encoding": {"x": {"field": "x", "type": "quantitative", "title": "log₂FC"}, "y": {"field": "y", "type": "quantitative", "title": "-log₁₀FDR"}}
},
{
"data": {"name": "up"},
"mark": {"type": "circle", "size": 13, "opacity": 1, "color": "#E60000"},
"encoding": {"x": {"field": "x", "type": "quantitative", "title": "log₂FC"}, "y": {"field": "y", "type": "quantitative", "title": "-log₁₀FDR"}}
},
{
"data": {"values": [{"x": -0.4}, {"x": 0.4}]},
"mark": {"type": "rule", "color": "#1a1a1a", "strokeWidth": 1.4},
"encoding": {"x": {"field": "x", "type": "quantitative", "title": "log₂FC"}}
},
{
"data": {"values": [{"y": 1.301}]},
"mark": {"type": "rule", "color": "#1a1a1a", "strokeWidth": 1.4},
"encoding": {"y": {"field": "y", "type": "quantitative", "title": "-log₁₀FDR"}}
},
{
"data": {"name": "cross"},
"mark": {"type": "point", "shape": "M-1,-1L1,1M-1,1L1,-1", "size": 70, "filled": false, "stroke": "#000000", "strokeWidth": 1, "opacity": 1},
"encoding": {"x": {"field": "x", "type": "quantitative", "title": "log₂FC"}, "y": {"field": "y", "type": "quantitative", "title": "-log₁₀FDR"}}
},
{
"data": {"name": "plus"},
"mark": {"type": "point", "shape": "M-1,0L1,0M0,-1L0,1", "size": 88, "filled": false, "stroke": "#000000", "strokeWidth": 1, "opacity": 1},
"encoding": {"x": {"field": "x", "type": "quantitative", "title": "log₂FC"}, "y": {"field": "y", "type": "quantitative", "title": "-log₁₀FDR"}}
},
{
"data": {"values": [{"x": -4.27, "y": 3.93, "label": "334 Down-regulated"}]},
"mark": {"type": "text", "align": "left", "baseline": "alphabetic", "fontSize": 24.5, "color": "#111111"},
"encoding": {"x": {"field": "x", "type": "quantitative", "title": "log₂FC"}, "y": {"field": "y", "type": "quantitative", "title": "-log₁₀FDR"}, "text": {"field": "label"}}
},
{
"data": {"values": [{"x": 3.99, "y": 3.93, "label": "238 Up-regulated"}]},
"mark": {"type": "text", "align": "right", "baseline": "alphabetic", "fontSize": 24.5, "color": "#111111"},
"encoding": {"x": {"field": "x", "type": "quantitative", "title": "log₂FC"}, "y": {"field": "y", "type": "quantitative", "title": "-log₁₀FDR"}, "text": {"field": "label"}}
}
]
}
